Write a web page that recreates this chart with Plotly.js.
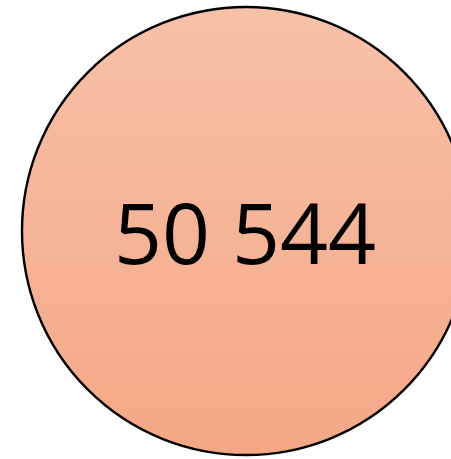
<!DOCTYPE html>
<html>
<head>
<meta charset="utf-8">
<script src="https://cdn.plot.ly/plotly-3.0.1.min.js"></script>
<style>html,body{margin:0;padding:0;background:#fff;}#chart{width:451px;height:459px;}</style>
</head>
<body>
<div id="chart"></div>
<script>
const categories = ["Total"];
const values = [50544];
const labels = ["50 544"];

const trace = {
  type: "scatter",
  mode: "markers",
  x: [0],
  y: [0],
  customdata: values,
  marker: {
    size: 448,
    color: "#F7C1A8",
    gradient: {type: "vertical", color: "#F5A785"},
    line: {color: "#000000", width: 2.4}
  },
  hoverinfo: "none",
  showlegend: false
};

const layout = {
  width: 451,
  height: 459,
  margin: {l: 0, r: 0, t: 0, b: 0, pad: 0},
  paper_bgcolor: "#ffffff",
  plot_bgcolor: "#ffffff",
  xaxis: {range: [-246, 205], visible: false, fixedrange: true},
  yaxis: {range: [-228, 231], visible: false, fixedrange: true},
  showlegend: false,
  annotations: labels.map((t, i) => ({
    x: 0, y: 0, xref: "x", yref: "y",
    text: t, showarrow: false,
    xanchor: "center", yanchor: "middle",
    yshift: 0, xshift: -1,
    font: {family: "Open Sans, sans-serif", size: 84, color: "#000000"}
  }))
};

Plotly.newPlot("chart", [trace], layout, {staticPlot: true, displayModeBar: false});
</script>
</body>
</html>
